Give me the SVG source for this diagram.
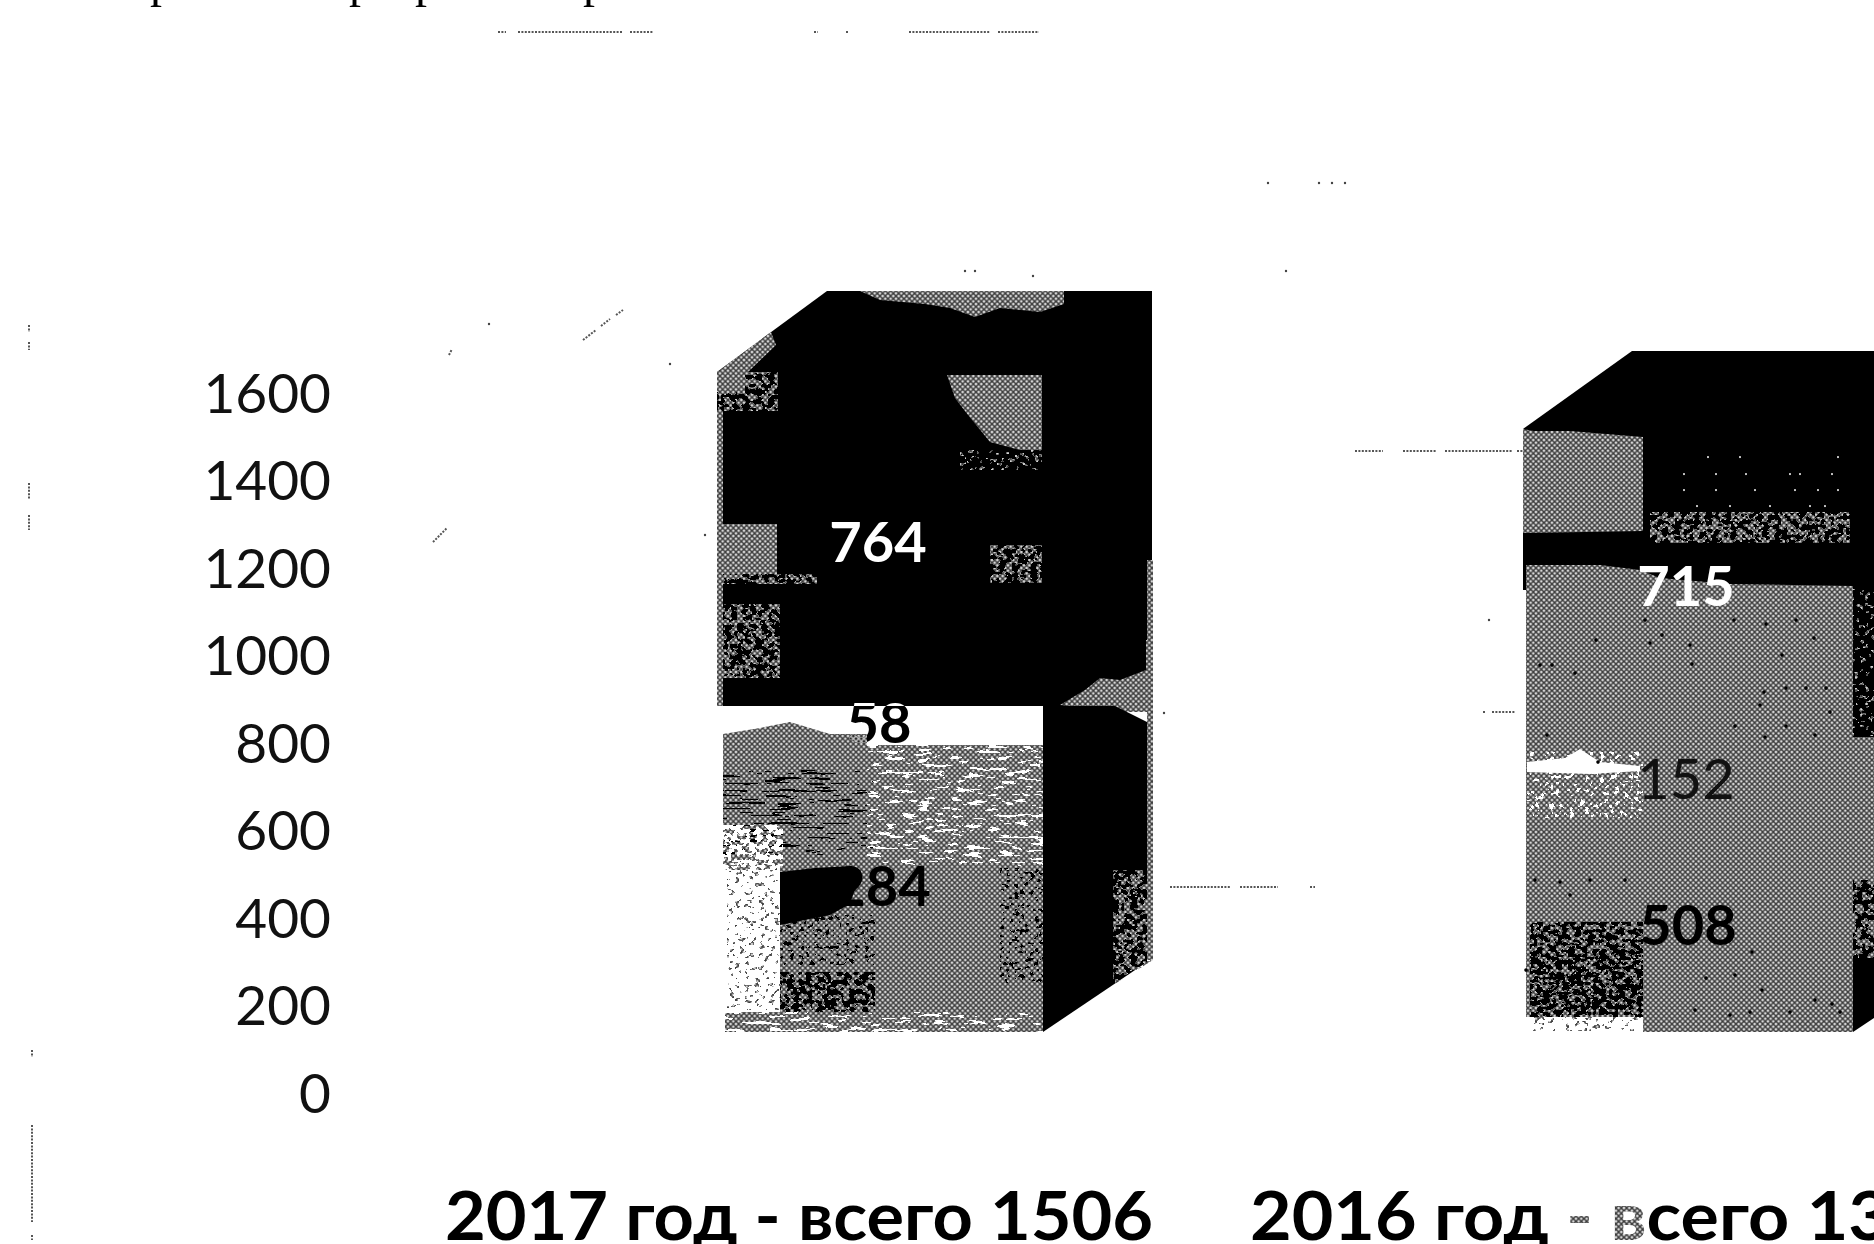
<svg xmlns="http://www.w3.org/2000/svg" width="1874" height="1244" viewBox="0 0 1874 1244">
<style>
text{font-family:Lato,"Noto Sans","Liberation Sans",sans-serif}
.ax{font-size:55px;text-anchor:end;fill:#111}
.cat{font-size:66px;font-weight:700;fill:#000}
.val{font-size:56px;font-weight:700;text-anchor:middle}
.g{fill:url(#dither)}
.dots{fill:none;stroke:#555;stroke-width:2;stroke-dasharray:2 1.4}
.pts{fill:none;stroke:#444;stroke-width:2.4;stroke-linecap:round}
.kd{fill:none;stroke:#000;stroke-width:3.6;stroke-linecap:round}
.wd{fill:none;stroke:#ddd;stroke-width:2.2;stroke-linecap:round}
</style>
<defs>
<pattern id="dither" width="4" height="4" patternUnits="userSpaceOnUse" patternTransform="scale(1.3333)">
<rect width="4" height="4" fill="#3c3c3c"/>
<circle cx="0" cy="0" r="1.05" fill="#d6d6d6"/><circle cx="4" cy="0" r="1.05" fill="#d6d6d6"/><circle cx="0" cy="4" r="1.05" fill="#d6d6d6"/><circle cx="4" cy="4" r="1.05" fill="#d6d6d6"/><circle cx="2" cy="2" r="1.05" fill="#d6d6d6"/>
</pattern>
<filter id="holes" x="0" y="0" width="1" height="1" color-interpolation-filters="sRGB">
<feTurbulence type="fractalNoise" baseFrequency=".06 .28" numOctaves="3" seed="7"/>
<feColorMatrix values="0 0 0 0 0 0 0 0 0 0 0 0 0 0 0 1.6 0 0 0 -.3"/>
<feComponentTransfer result="m"><feFuncA type="discrete" tableValues="0 0 0 1 1 1 1 1 1 1"/></feComponentTransfer>
<feComposite in="SourceGraphic" in2="m" operator="in"/>
</filter>
<filter id="streak" x="0" y="0" width="1" height="1" color-interpolation-filters="sRGB">
<feTurbulence type="fractalNoise" baseFrequency=".03 .4" numOctaves="3" seed="12"/>
<feColorMatrix values="0 0 0 0 0 0 0 0 0 0 0 0 0 0 0 1.6 0 0 0 -.3"/>
<feComponentTransfer result="m"><feFuncA type="discrete" tableValues="0 0 0 0 0 0 0 1 1 1"/></feComponentTransfer>
<feComposite in="SourceGraphic" in2="m" operator="in"/>
</filter>
<filter id="speck" x="0" y="0" width="1" height="1" color-interpolation-filters="sRGB">
<feTurbulence type="fractalNoise" baseFrequency=".16 .2" numOctaves="2" seed="3"/>
<feColorMatrix values="0 0 0 0 0 0 0 0 0 0 0 0 0 0 0 1.6 0 0 0 -.3"/>
<feComponentTransfer result="m"><feFuncA type="discrete" tableValues="0 0 0 0 0 1 1 1 1 1"/></feComponentTransfer>
<feComposite in="SourceGraphic" in2="m" operator="in"/>
</filter>
<filter id="sparse" x="0" y="0" width="1" height="1" color-interpolation-filters="sRGB">
<feTurbulence type="fractalNoise" baseFrequency=".2 .24" numOctaves="2" seed="9"/>
<feColorMatrix values="0 0 0 0 0 0 0 0 0 0 0 0 0 0 0 1.6 0 0 0 -.3"/>
<feComponentTransfer result="m"><feFuncA type="discrete" tableValues="0 0 0 0 0 0 0 1 1 1"/></feComponentTransfer>
<feComposite in="SourceGraphic" in2="m" operator="in"/>
</filter>
</defs>
<rect width="1874" height="1244" fill="#fff"/>

<g id="clipped-top-line" fill="#000">
<text x="150" y="-3" font-size="48" style="font-family:'Liberation Serif',serif">р</text>
<text x="349" y="-3" font-size="48" style="font-family:'Liberation Serif',serif">р</text>
<text x="415" y="-3" font-size="48" style="font-family:'Liberation Serif',serif">р</text>
<text x="583" y="-3" font-size="48" style="font-family:'Liberation Serif',serif">р</text>
</g>

<g id="gridline-remnants">
<path class="dots" d="M498 32H506M518 32H622M630 32H653M814 32H818M846 32H849M909 32H990M998 32H1039"/>
<path class="dots" d="M1355 451H1383M1403 451H1437M1445 451H1513M1517 451H1523M1483 712H1485M1492 712H1515M1170 887H1230M1240 887H1278M1310 887H1315"/>
<path class="dots" d="M583 340L596 330M601 326L610 319M616 315L623 310M433 542L447 528M449 355L452 349"/>
<path class="pts" d="M489 324v.1M670 364v.1M705 535v.1M965 271v.1M975 271v.1M1033 276v.1M1268 183v.1M1319 183v.1M1332 183v.1M1345 183v.1M1286 271v.1M1489 620v.1M1164 713v.1"/>
<path class="dots" d="M29 325V332M29 342V350M29 483V500M29 515V530M32 1050V1057M32 1125V1222M32 1235V1240"/>
</g>

<g id="axis-labels">
<text class="ax" x="331" y="413">1600</text>
<text class="ax" x="331" y="500">1400</text>
<text class="ax" x="331" y="588">1200</text>
<text class="ax" x="331" y="675">1000</text>
<text class="ax" x="331" y="763">800</text>
<text class="ax" x="331" y="850">600</text>
<text class="ax" x="331" y="938">400</text>
<text class="ax" x="331" y="1025">200</text>
<text class="ax" x="331" y="1113">0</text>
</g>

<g id="bar-2017">
<polygon points="717,372 827,291 1152,291 1152,706 717,706" fill="#000"/>
<polygon class="g" points="860,291 1064,291 1064,304 1040,312 1000,308 975,317 950,308 925,304 880,300"/>
<polygon class="g" points="717,372 771,332 776,345 748,372 730,372"/>
<rect class="g" x="717" y="372" width="61" height="39" filter="url(#speck)"/>
<rect class="g" x="717" y="372" width="28" height="20"/>
<polygon class="g" points="947,375 1042,375 1042,450 1020,450 990,442 968,415 955,398"/>
<rect class="g" x="960" y="450" width="82" height="20" filter="url(#sparse)"/>
<rect class="g" x="717" y="524" width="60" height="50"/>
<rect class="g" x="717" y="574" width="100" height="10" filter="url(#speck)"/>
<rect class="g" x="720" y="604" width="60" height="74" filter="url(#speck)"/>
<rect class="g" x="990" y="545" width="52" height="38" filter="url(#speck)"/>
<rect class="g" x="717" y="411" width="6" height="295"/>
<rect class="g" x="1147" y="560" width="6" height="400"/>
<polygon class="g" points="1060,705 1085,690 1100,678 1120,680 1146,670 1146,640 1152,640 1152,712 1120,712"/>
<rect x="717" y="706" width="326" height="28" fill="#fff"/>
<polygon class="g" points="723,734 760,728 790,722 830,734"/>

<rect class="g" x="723" y="734" width="144" height="136"/>
<rect x="723" y="770" width="150" height="85" fill="#000" filter="url(#streak)"/>
<rect x="723" y="825" width="60" height="45" fill="#fff" filter="url(#speck)"/>
<rect class="g" x="867" y="745" width="176" height="125" filter="url(#holes)"/>
<rect class="g" x="780" y="866" width="263" height="146"/>
<rect x="780" y="915" width="95" height="50" fill="#000" filter="url(#sparse)"/>
<rect x="780" y="972" width="95" height="40" fill="#000" filter="url(#speck)"/>
<rect x="1000" y="868" width="43" height="115" fill="#000" filter="url(#sparse)"/>
<rect class="g" x="727" y="870" width="53" height="140" filter="url(#sparse)"/>
<rect class="g" x="725" y="1012" width="318" height="20" filter="url(#holes)"/>
<polygon points="780,872 815,868 852,866 858,880 850,904 830,915 780,925" fill="#000"/>

<polygon points="1043,706 1115,706 1147,722 1147,962 1043,1032" fill="#000"/>
<polygon class="g" points="1113,870 1153,870 1153,960 1113,985" filter="url(#speck)"/>
<text class="val" x="878" y="562" fill="#fff">764</text>
<text class="val" x="879" y="743" fill="#fff" style="mix-blend-mode:difference">58</text>
<text class="val" x="882" y="906" fill="#000">284</text>
</g>

<g id="bar-2016">
<polygon points="1523,429 1632,351 1874,351 1874,590 1523,590" fill="#000"/>
<polygon class="g" points="1523,429 1534,431 1570,431 1643,437 1643,531 1527,533 1523,533"/>
<polygon class="g" points="1526,565 1600,565 1640,570 1660,578 1730,584 1853,586 1853,1032 1526,1032"/>
<rect class="g" x="1650" y="512" width="200" height="31" filter="url(#speck)"/>
<path class="wd" d="M1708 457v.1M1740 457v.1M1838 457v.1M1684 474v.1M1716 474v.1M1746 474v.1M1790 474v.1M1800 474v.1M1832 474v.1M1684 490v.1M1716 490v.1M1755 490v.1M1795 490v.1M1818 490v.1M1838 490v.1M1697 506v.1M1730 506v.1M1770 506v.1M1810 506v.1M1825 506v.1"/>
<rect x="1527" y="752" width="116" height="66" fill="#fff" filter="url(#sparse)"/>
<polygon points="1527,762 1565,758 1580,749 1600,762 1640,766 1640,771 1590,774 1527,772" fill="#fff"/>
<rect x="1530" y="922" width="113" height="95" fill="#000" filter="url(#speck)"/>
<rect x="1530" y="955" width="113" height="50" fill="#000" filter="url(#sparse)"/>
<rect x="1526" y="1017" width="117" height="15" fill="#fff"/>
<rect class="g" x="1530" y="1017" width="113" height="14" filter="url(#sparse)"/>
<path class="kd" d="M1540 665v.1M1552 665v.1M1575 673v.1M1596 640v.1M1645 620v.1M1650 643v.1M1662 635v.1M1690 645v.1M1692 664v.1M1734 620v.1M1766 624v.1M1796 620v.1M1814 638v.1M1782 655v.1M1764 692v.1M1760 705v.1M1786 688v.1M1806 688v.1M1826 688v.1M1830 712v.1M1786 726v.1M1815 735v.1M1735 726v.1M1765 737v.1M1547 735v.1M1598 762v.1M1526 970v.1M1535 880v.1M1560 882v.1M1590 880v.1M1625 880v.1M1570 895v.1M1752 952v.1M1706 978v.1M1735 975v.1M1762 990v.1M1815 1000v.1M1695 1010v.1M1730 1015v.1M1750 1012v.1M1790 1012v.1M1832 1004v.1M1840 1012v.1"/>
<polygon points="1853,586 1874,586 1874,737 1853,737" fill="#000"/>
<rect class="g" x="1853" y="589" width="21" height="148" filter="url(#sparse)"/>
<rect class="g" x="1853" y="737" width="21" height="145"/>
<polygon points="1853,880 1874,880 1874,1018 1853,1032" fill="#000"/>
<rect class="g" x="1853" y="880" width="21" height="78" filter="url(#speck)"/>
<text class="val" x="1686" y="606" fill="#fff">715</text>
<text class="val" x="1686" y="799" fill="#111" style="font-weight:400">152</text>
<text class="val" x="1688" y="945" fill="#000">508</text>
</g>

<g id="category-labels">
<text class="cat" x="445" y="1240" textLength="708" lengthAdjust="spacingAndGlyphs">2017 год - всего 1506</text>
<text class="cat" x="1250" y="1240" textLength="640" lengthAdjust="spacingAndGlyphs">2016 год <tspan fill="url(#dither)">- в</tspan>сего 13</text>
</g>
</svg>
